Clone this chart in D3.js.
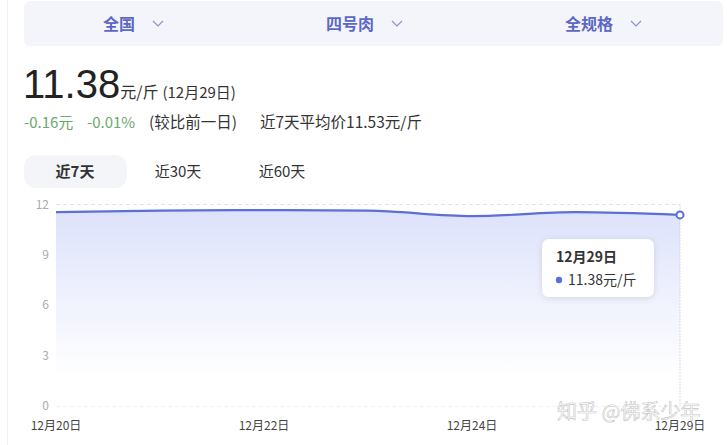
<!DOCTYPE html>
<html><head><meta charset="utf-8">
<script src="https://cdn.jsdelivr.net/npm/d3@7"></script>
<style>
html,body{margin:0;padding:0;background:#fff;overflow:hidden;}
svg{display:block;font-family:"Noto Sans CJK SC","Microsoft YaHei",sans-serif;}
</style></head><body>
<svg id="c" width="727" height="445"></svg>
<script>
const categories = ["12月20日","12月21日","12月22日","12月23日","12月24日","12月28日","12月29日"];
const prices = [11.55, 11.64, 11.67, 11.63, 11.31, 11.54, 11.38];
const yTicks = [0, 3, 6, 9, 12];
const xLabelShown = ["12月20日","12月22日","12月24日","12月29日"];
const filters = ["全国","四号肉","全规格"];
const tabs = ["近7天","近30天","近60天"];

const svg = d3.select("#c");
const defs = svg.append("defs");
const grad = defs.append("linearGradient").attr("id","ag").attr("x1",0).attr("x2",0).attr("y1",0).attr("y2",1);
grad.append("stop").attr("offset","0%").attr("stop-color","#dde2fb");
grad.append("stop").attr("offset","85%").attr("stop-color","#ffffff");
const flt = defs.append("filter").attr("id","sh").attr("x","-20%").attr("y","-20%").attr("width","140%").attr("height","150%");
flt.append("feDropShadow").attr("dx",0).attr("dy",1).attr("stdDeviation",3).attr("flood-color","#000").attr("flood-opacity",0.12);

// left border
svg.append("line").attr("x1",7.5).attr("x2",7.5).attr("y1",0).attr("y2",445).attr("stroke","#efefef");

// filter bar
svg.append("rect").attr("x",24).attr("y",1).attr("width",699).attr("height",45).attr("rx",6).attr("fill","#f4f5fa");
const fx = [119, 350, 589];
filters.forEach((f,i)=>{
  svg.append("text").attr("x",fx[i]).attr("y",30).attr("text-anchor","middle")
    .attr("font-size",16).attr("font-weight",700).attr("fill","#5b68c6").text(f);
  const cx = fx[i] + (i===0?39:47);
  svg.append("path").attr("d",`M${cx-5},${21} L${cx},${26} L${cx+5},${21}`)
    .attr("fill","none").attr("stroke","#8a93d4").attr("stroke-width",1.2);
});

// headline
const h = svg.append("text").attr("x",23).attr("y",98).attr("fill","#222");
h.append("tspan").attr("font-size",40).attr("font-family","'Liberation Sans',Arial,sans-serif").text("11.38");
h.append("tspan").attr("font-size",16).attr("fill","#333").text("元/斤");
h.append("tspan").attr("font-size",15).attr("fill","#333").attr("dx",4).text("(12月29日)");

svg.append("text").attr("x",24).attr("y",128).attr("font-size",15).attr("fill","#6aa96a").text("-0.16元");
svg.append("text").attr("x",87).attr("y",128).attr("font-size",15).attr("fill","#6aa96a").text("-0.01%");
svg.append("text").attr("x",149).attr("y",128).attr("font-size",15.5).attr("fill","#333").text("(较比前一日)");
svg.append("text").attr("x",260).attr("y",128).attr("font-size",15.5).attr("fill","#333").text("近7天平均价11.53元/斤");

// tabs
svg.append("rect").attr("x",24).attr("y",155).attr("width",103).attr("height",33).attr("rx",12).attr("fill","#f4f5f8");
const tx = [75, 178, 282];
tabs.forEach((t,i)=>{
  svg.append("text").attr("x",tx[i]).attr("y",177).attr("text-anchor","middle").attr("font-size",15)
    .attr("font-weight",i===0?700:400).attr("fill","#333").text(t);
});

// chart
const x = d3.scalePoint().domain(categories).range([56,680]);
const y = d3.scaleLinear().domain([0,12]).range([406,204.5]);

const gy = svg.append("g");
yTicks.forEach(v=>{
  gy.append("line").attr("x1",56).attr("x2",680).attr("y1",y(v)).attr("y2",y(v))
    .attr("stroke","#e4e4e4").attr("stroke-dasharray","4,3");
  gy.append("text").attr("x",49).attr("y",y(v)+4).attr("text-anchor","end").attr("font-size",12)
    .attr("fill","#aaa").text(v);
});

const area = d3.area().x((d,i)=>x(categories[i])).y0(y(0)).y1(d=>y(d)).curve(d3.curveMonotoneX);
const line = d3.line().x((d,i)=>x(categories[i])).y(d=>y(d)).curve(d3.curveMonotoneX);
svg.append("path").datum(prices).attr("d",area).attr("fill","url(#ag)");
svg.append("path").datum(prices).attr("d",line).attr("fill","none").attr("stroke","#5b6fd6").attr("stroke-width",2.2);

// axis pointer
const last = categories.length-1;
svg.append("line").attr("x1",x(categories[last])).attr("x2",x(categories[last])).attr("y1",y(12)).attr("y2",y(0))
  .attr("stroke","#bbb").attr("stroke-dasharray","1,2");
svg.append("circle").attr("cx",x(categories[last])).attr("cy",y(prices[last])).attr("r",3.5)
  .attr("fill","#fff").attr("stroke","#5b6fd6").attr("stroke-width",2);

// x labels
xLabelShown.forEach(c=>{
  svg.append("text").attr("x",x(c)).attr("y",430).attr("text-anchor","middle").attr("font-size",12)
    .attr("fill","#444").text(c);
});

// tooltip
const tt = svg.append("g");
tt.append("rect").attr("x",542).attr("y",239).attr("width",112).attr("height",58).attr("rx",7)
  .attr("fill","#fff").attr("filter","url(#sh)");
tt.append("text").attr("x",556).attr("y",262).attr("font-size",14).attr("font-weight",700).attr("fill","#333").text(categories[last]);
tt.append("circle").attr("cx",559).attr("cy",280).attr("r",3.2).attr("fill","#5b6fd6");
tt.append("text").attr("x",568).attr("y",285).attr("font-size",14).attr("fill","#333").text(prices[last].toFixed(2)+"元/斤");

// watermark (overlaps the last axis label, as in the reference)
svg.append("text").attr("x",557).attr("y",419).attr("font-size",20).attr("fill","#fff").attr("fill-opacity",0.85)
  .attr("stroke","#999").attr("stroke-width",0.6).attr("stroke-opacity",0.6).text("知乎 @佛系少年");
</script>
</body></html>
